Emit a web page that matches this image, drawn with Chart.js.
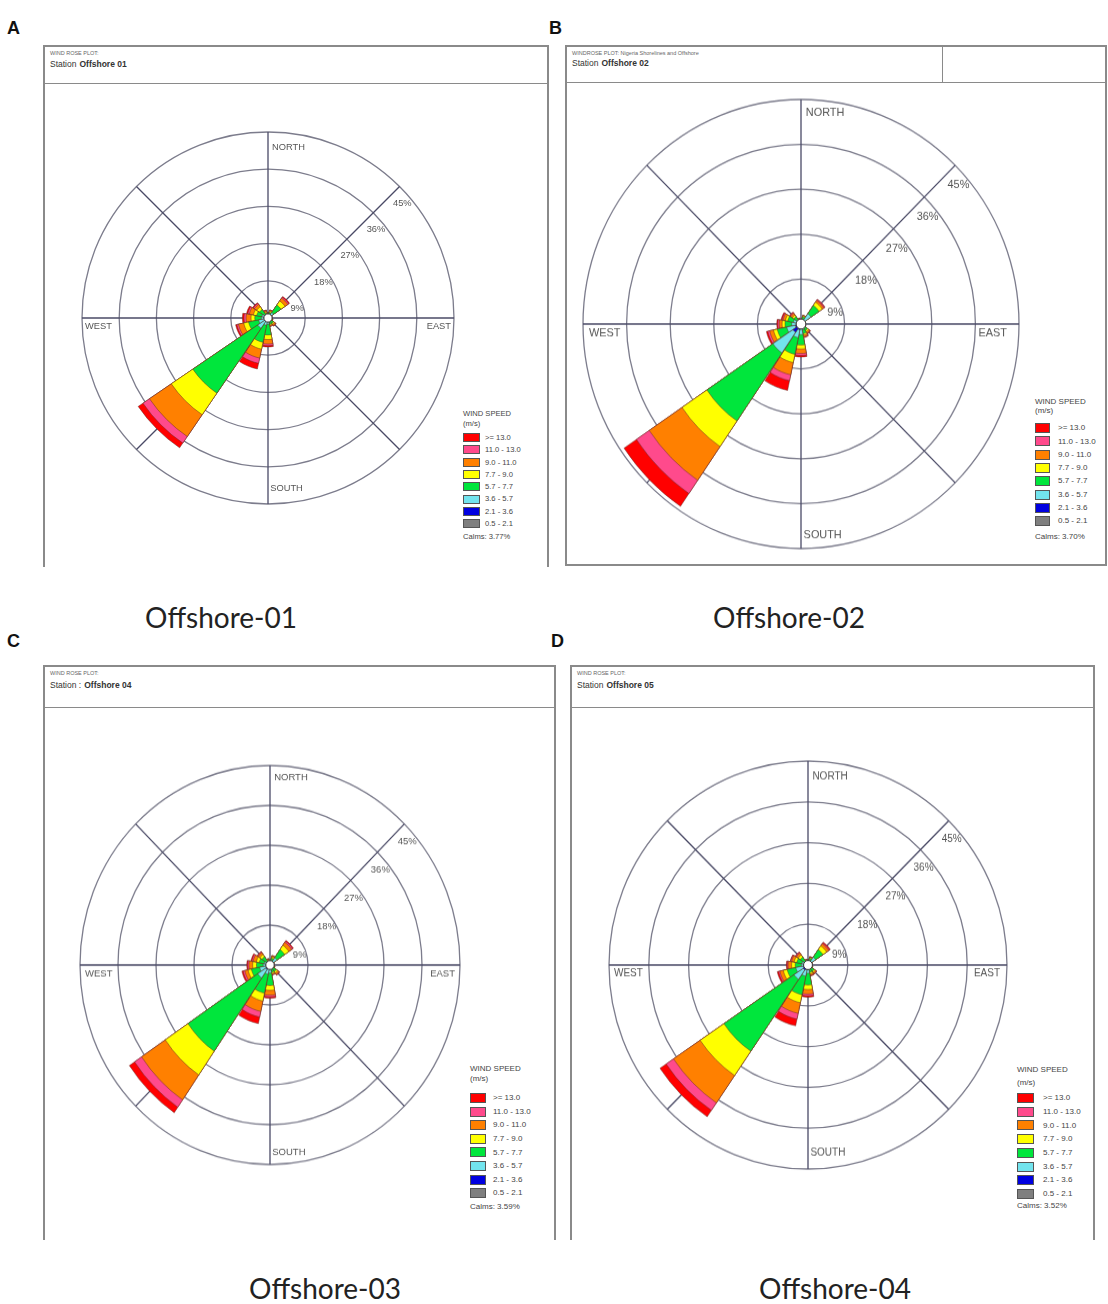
<!DOCTYPE html>
<html>
<head>
<meta charset="utf-8">
<script src="https://cdn.jsdelivr.net/npm/chart.js@4.4.1/dist/chart.umd.min.js"></script>
<style>
  body { margin: 0; background: #fff; }
  #page { position: relative; width: 1108px; height: 1304px; overflow: hidden; font-family: 'Liberation Sans', Arial, sans-serif; }
  .letter { position: absolute; font-weight: bold; font-size: 18px; color: #111; }
  .frame { position: absolute; box-sizing: border-box; border: 2px solid #8a8a8a; border-bottom: none; }
  .frame.closed { border-bottom: 2px solid #8a8a8a; }
  .head { position: absolute; left: 0; right: 0; top: 0; border-bottom: 1.5px solid #8a8a8a; }
  .divider { position: absolute; top: 0; bottom: 0; border-left: 1.5px solid #8a8a8a; }
  .plot-title { position: absolute; left: 5px; top: 3px; font-size: 5.5px; color: #666; white-space: nowrap; }
  .station { position: absolute; left: 5px; font-size: 8.5px; color: #333; white-space: nowrap; }
  .station b { margin-left: 3px; }
  .rose { position: absolute; transform-origin: 50% 50%; }
  .leg { position: absolute; color: #444; white-space: nowrap; }
  .sw { position: absolute; box-sizing: border-box; border: 1px solid #555; }
  .caption { position: absolute; font-family: Lato, 'Open Sans', sans-serif; font-size: 28px; color: #222; transform: translateX(-50%); white-space: nowrap; }
</style>
</head>
<body>
<div id="page"></div>
<script>
// compass sectors and wind speed classes (inner to outer)
const directions = ['N', 'NNE', 'NE', 'ENE', 'E', 'ESE', 'SE', 'SSE', 'S', 'SSW', 'SW', 'WSW', 'W', 'WNW', 'NW', 'NNW'];
const speedBins = ['0.5 - 2.1', '2.1 - 3.6', '3.6 - 5.7', '5.7 - 7.7', '7.7 - 9.0', '9.0 - 11.0', '11.0 - 13.0', '>= 13.0'];
const compassLabels = ['NORTH', '', 'EAST', '', 'SOUTH', '', 'WEST', ''];
const ringValues = [9, 18, 27, 36, 45];

const stationNames = ['Offshore 01', 'Offshore 02', 'Offshore 04', 'Offshore 05'];
const stationPrefix = ['Station', 'Station', 'Station :', 'Station'];
const plotTitles = ['WIND ROSE PLOT:', 'WINDROSE PLOT: Nigeria Shorelines and Offshore', 'WIND ROSE PLOT:', 'WIND ROSE PLOT:'];
const captions = ['Offshore-01', 'Offshore-02', 'Offshore-03', 'Offshore-04'];
const calms = [3.77, 3.70, 3.59, 3.52];

// frequency (%) per direction, one value per speed class
const offshore01 = [
  [0.2, 0.2, 0.3, 0.3, 0.1, 0.1, 0, 0],
  [0.2, 0.2, 0.4, 0.6, 0.3, 0.2, 0.1, 0],
  [0.2, 0.4, 1.0, 2.2, 1.2, 0.8, 0.3, 0.2],
  [0.2, 0.2, 0.3, 0.2, 0.1, 0, 0, 0],
  [0.2, 0.2, 0.2, 0.1, 0, 0, 0, 0],
  [0.2, 0.2, 0.3, 0.3, 0.1, 0.1, 0, 0],
  [0.2, 0.3, 0.5, 0.6, 0.3, 0.3, 0.1, 0.1],
  [0.2, 0.3, 0.5, 0.6, 0.2, 0.2, 0.1, 0],
  [0.3, 0.4, 0.8, 2.6, 1.1, 1.1, 0.4, 0.3],
  [0.3, 0.5, 1.0, 4.2, 1.7, 2.2, 1.3, 1.4],
  [0.5, 0.5, 2.0, 19.0, 6.3, 6.4, 1.9, 1.4],
  [0.3, 0.5, 1.5, 2.5, 1.2, 1.3, 0.4, 0.3],
  [0.3, 0.4, 0.9, 1.6, 0.9, 1.2, 0.5, 0.4],
  [0.3, 0.4, 0.8, 1.3, 0.8, 1.0, 0.4, 0.3],
  [0.2, 0.3, 0.6, 1.4, 0.8, 0.7, 0.3, 0.2],
  [0.2, 0.2, 0.3, 0.5, 0.3, 0.3, 0.1, 0.1]
];
const offshore02 = [
  [0.2, 0.2, 0.2, 0.2, 0, 0, 0, 0],
  [0.2, 0.3, 0.5, 0.5, 0.2, 0.1, 0, 0],
  [0.3, 0.6, 1.6, 2.0, 0.8, 0.4, 0.2, 0.1],
  [0.2, 0.2, 0.3, 0.2, 0, 0, 0, 0],
  [0.2, 0.2, 0.2, 0.1, 0, 0, 0, 0],
  [0.2, 0.2, 0.3, 0.2, 0.1, 0, 0, 0],
  [0.2, 0.3, 0.5, 0.6, 0.3, 0.3, 0.1, 0.1],
  [0.2, 0.4, 0.6, 0.8, 0.3, 0.3, 0.1, 0.1],
  [0.3, 0.6, 1.2, 2.1, 0.8, 0.9, 0.4, 0.3],
  [0.4, 0.8, 1.6, 3.4, 1.7, 2.5, 1.2, 2.0],
  [0.5, 1.5, 5.0, 16.5, 6.2, 8.2, 3.2, 3.1],
  [0.4, 0.8, 1.8, 2.0, 0.8, 0.8, 0.4, 0.3],
  [0.3, 0.6, 1.0, 1.4, 0.6, 0.6, 0.3, 0.2],
  [0.3, 0.5, 0.8, 1.2, 0.5, 0.5, 0.2, 0.2],
  [0.2, 0.3, 0.5, 0.8, 0.4, 0.4, 0.2, 0.1],
  [0.2, 0.2, 0.3, 0.3, 0.1, 0.1, 0, 0]
];
const offshore03 = [
  [0.2, 0.2, 0.3, 0.3, 0.1, 0, 0, 0],
  [0.2, 0.3, 0.5, 0.6, 0.3, 0.2, 0.1, 0],
  [0.3, 0.5, 1.2, 2.2, 1.2, 0.8, 0.3, 0.2],
  [0.2, 0.2, 0.3, 0.2, 0.1, 0, 0, 0],
  [0.2, 0.2, 0.2, 0.1, 0, 0, 0, 0],
  [0.2, 0.2, 0.3, 0.3, 0.1, 0.1, 0, 0],
  [0.2, 0.3, 0.5, 0.8, 0.4, 0.4, 0.1, 0.1],
  [0.2, 0.3, 0.5, 0.7, 0.3, 0.2, 0.1, 0],
  [0.3, 0.5, 1.0, 2.8, 1.1, 1.1, 0.4, 0.3],
  [0.3, 0.6, 1.2, 4.4, 1.8, 2.4, 1.3, 1.5],
  [0.5, 0.7, 2.3, 20.0, 6.5, 6.8, 2.0, 1.5],
  [0.3, 0.6, 1.6, 2.0, 0.8, 0.8, 0.4, 0.3],
  [0.3, 0.4, 0.9, 1.6, 0.9, 0.9, 0.3, 0.2],
  [0.3, 0.4, 0.7, 1.2, 0.7, 0.8, 0.3, 0.2],
  [0.2, 0.3, 0.6, 1.2, 0.6, 0.5, 0.2, 0.1],
  [0.2, 0.2, 0.3, 0.4, 0.2, 0.1, 0.1, 0]
];
const offshore04 = [
  [0.2, 0.2, 0.3, 0.3, 0.1, 0, 0, 0],
  [0.2, 0.3, 0.5, 0.5, 0.2, 0.1, 0.1, 0],
  [0.3, 0.5, 1.3, 2.0, 1.0, 0.6, 0.2, 0.2],
  [0.2, 0.2, 0.3, 0.2, 0.1, 0, 0, 0],
  [0.2, 0.2, 0.2, 0.1, 0, 0, 0, 0],
  [0.2, 0.2, 0.3, 0.3, 0.1, 0, 0, 0],
  [0.2, 0.3, 0.5, 0.7, 0.3, 0.3, 0.1, 0],
  [0.2, 0.3, 0.5, 0.7, 0.3, 0.3, 0.1, 0.1],
  [0.3, 0.5, 1.0, 2.6, 1.0, 1.0, 0.4, 0.3],
  [0.4, 0.7, 1.4, 4.2, 1.8, 2.4, 1.3, 1.5],
  [0.5, 0.8, 2.5, 19.2, 6.5, 7.3, 2.0, 1.7],
  [0.4, 0.7, 1.7, 2.0, 0.9, 0.8, 0.3, 0.3],
  [0.3, 0.4, 0.8, 1.4, 0.8, 0.8, 0.2, 0.2],
  [0.3, 0.4, 0.7, 1.2, 0.6, 0.6, 0.2, 0.1],
  [0.2, 0.3, 0.5, 1.1, 0.6, 0.5, 0.2, 0.1],
  [0.2, 0.2, 0.3, 0.4, 0.1, 0.1, 0, 0]
];
const stationPetals = [offshore01, offshore02, offshore03, offshore04];

const binColors = ['#7f7f7f', '#0000e0', '#72e4ee', '#00e63c', '#ffff00', '#ff8000', '#ff4a8c', '#ff0000'];
const petalEdge = 'rgba(95, 45, 35, 0.6)';
const ringColor = '#7c7c8c';
const axisColor = '#4a4a66';
const textColor = '#555';

// page layout: frame [x0, y0, x1, y1], rose [cx, cy, R], sy = vertical stretch of the scanned plot,
// insets = compass label distance from the outer ring [N, S, W, E],
// legend [x, titleY, unitY, rowTop, step, swW, swH, labelX, calmsY, fontSize]
const layout = [
  { letter: 'A', lx: 7, ly: 18, frame: [43, 45, 549, 567], head: 36, closed: false, divider: null,
    rose: [268, 318, 186], sy: 1, insets: [15, 16, 3, 3],
    legend: [463, 414, 424, 433, 12.3, 17, 9, 485, 537, 7.6], cap: [221, 600] },
  { letter: 'B', lx: 549, ly: 18, frame: [565, 45, 1107, 566], head: 35, closed: true, divider: 375,
    rose: [801, 324, 218], sy: 1.03, insets: [13, 13, 6, 12],
    legend: [1035, 402, 411, 423, 13.3, 15, 10, 1058, 537, 8], cap: [789, 600] },
  { letter: 'C', lx: 7, ly: 631, frame: [43, 665, 556, 1240], head: 40, closed: false, divider: null,
    rose: [270, 965, 190], sy: 1.05, insets: [11, 12, 5, 5],
    legend: [470, 1069, 1079, 1093, 13.6, 16, 10, 493, 1207, 8], cap: [325, 1271] },
  { letter: 'D', lx: 551, ly: 631, frame: [570, 665, 1095, 1240], head: 40, closed: false, divider: null,
    rose: [808, 965, 199], sy: 1.025, insets: [15, 16, 5, 7],
    legend: [1017, 1070, 1083, 1093, 13.7, 17, 10, 1043, 1206, 8], cap: [835, 1271] }
];

// arcs around the compass from north: half petal, then gap/petal pairs, closing half petal
const petalWidth = 21.5;
const petalGap = 22.5 - petalWidth;
const arcDirs = [0];
for (let d = 1; d < directions.length; d++) arcDirs.push(-1, d);
arcDirs.push(-1, 0);
const arcAngles = arcDirs.map((d, i) => d < 0 ? petalGap : (i === 0 || i === arcDirs.length - 1 ? petalWidth / 2 : petalWidth));

function roseDatasets(petals) {
  return speedBins.map((bin, b) => ({
    label: bin + ' m/s',
    data: arcDirs.map(d => d < 0 ? 0 : +petals[d].slice(0, b + 1).reduce((s, v) => s + v, 0).toFixed(2)),
    backgroundColor: binColors[b],
    borderColor: petalEdge,
    borderWidth: c => arcDirs[c.dataIndex] < 0 ? 0 : 0.8,
    angle: c => arcAngles[c.dataIndex]
  }));
}

const roseText = {
  id: 'roseText',
  afterDatasetsDraw(chart, args, opts) {
    const r = chart.scales.r;
    const ctx = chart.ctx;
    const R = r.drawingArea;
    const [nIn, sIn, wIn, eIn] = opts.insets;
    ctx.save();
    // calm circle
    ctx.beginPath();
    ctx.arc(r.xCenter, r.yCenter, r.getDistanceFromCenterForValue(1.0), 0, 2 * Math.PI);
    ctx.fillStyle = '#fff';
    ctx.fill();
    ctx.strokeStyle = '#333';
    ctx.lineWidth = 1;
    ctx.stroke();

    ctx.fillStyle = textColor;
    ctx.font = (R * 0.05).toFixed(1) + 'px "Liberation Sans", Arial, sans-serif';
    ctx.textBaseline = 'middle';
    ctx.textAlign = 'center';
    ringValues.forEach(v => {
      const p = r.getPointPosition(1, r.getDistanceFromCenterForValue(v));
      ctx.fillText(v + '%', p.x + R * 0.015, p.y + R * 0.09);
    });
    let p = r.getPointPosition(0, R - nIn);
    ctx.textAlign = 'left';
    ctx.fillText(compassLabels[0], p.x + R * 0.022, p.y);
    p = r.getPointPosition(4, R - sIn);
    ctx.fillText(compassLabels[4], p.x + R * 0.012, p.y);
    p = r.getPointPosition(6, R - wIn);
    ctx.fillText(compassLabels[6], p.x, p.y + R * 0.043);
    p = r.getPointPosition(2, R - eIn);
    ctx.textAlign = 'right';
    ctx.fillText(compassLabels[2], p.x, p.y + R * 0.043);
    ctx.restore();
  }
};

const page = document.getElementById('page');
function add(cls, css, html) {
  const el = document.createElement('div');
  el.className = cls;
  Object.assign(el.style, css);
  if (html !== undefined) el.innerHTML = html;
  page.appendChild(el);
  return el;
}

layout.forEach((L, k) => {
  add('letter', { left: L.lx + 'px', top: L.ly + 'px' }, L.letter);

  const [x0, y0, x1, y1] = L.frame;
  const frame = add('frame' + (L.closed ? ' closed' : ''), { left: x0 + 'px', top: y0 + 'px', width: (x1 - x0) + 'px', height: (y1 - y0) + 'px' });
  const head = document.createElement('div');
  head.className = 'head';
  head.style.height = L.head + 'px';
  head.innerHTML = '<div class="plot-title">' + plotTitles[k] + '</div>' +
    '<div class="station" style="top:' + (L.head * 0.32) + 'px">' + stationPrefix[k] + '<b>' + stationNames[k] + '</b></div>' +
    (L.divider ? '<div class="divider" style="left:' + L.divider + 'px"></div>' : '');
  frame.appendChild(head);

  // wind rose
  const [cx, cy, R] = L.rose;
  const wrap = add('rose', { left: (cx - R - 2) + 'px', top: (cy - R - 2) + 'px', transform: 'scaleY(' + L.sy + ')' });
  const canvas = document.createElement('canvas');
  canvas.width = 2 * R + 4;
  canvas.height = 2 * R + 4;
  wrap.appendChild(canvas);
  new Chart(canvas, {
    type: 'polarArea',
    data: { labels: arcDirs.map(d => d < 0 ? '' : directions[d]), datasets: roseDatasets(stationPetals[k]) },
    options: {
      responsive: false,
      animation: false,
      layout: { padding: 2 },
      plugins: { legend: { display: false }, tooltip: { enabled: false }, roseText: { insets: L.insets } },
      scales: {
        r: {
          labels: compassLabels,
          min: 0,
          max: 45,
          ticks: { stepSize: 9, display: false },
          grid: { circular: true, color: ringColor, lineWidth: 1.3 },
          angleLines: { display: true, color: axisColor, lineWidth: 1.3 },
          pointLabels: { display: false }
        }
      }
    },
    plugins: [roseText]
  });

  // speed legend
  const [lx, ty, uy, rowTop, step, sw, sh, labX, calmY, fs] = L.legend;
  const line = fs * 1.2;
  const txt = (y, x, s) => add('leg', { left: x + 'px', top: (y - line / 2) + 'px', fontSize: fs + 'px', lineHeight: line + 'px' }, s);
  txt(ty, lx, 'WIND SPEED');
  txt(uy, lx, '(m/s)');
  speedBins.slice().reverse().forEach((bin, i) => {
    const top = rowTop + i * step;
    add('sw', { left: lx + 'px', top: top + 'px', width: sw + 'px', height: sh + 'px', background: binColors[speedBins.length - 1 - i] });
    txt(top + sh / 2, labX, bin);
  });
  txt(calmY, lx, 'Calms: ' + calms[k].toFixed(2) + '%');

  add('caption', { left: L.cap[0] + 'px', top: L.cap[1] + 'px' }, captions[k]);
});
</script>
</body>
</html>
